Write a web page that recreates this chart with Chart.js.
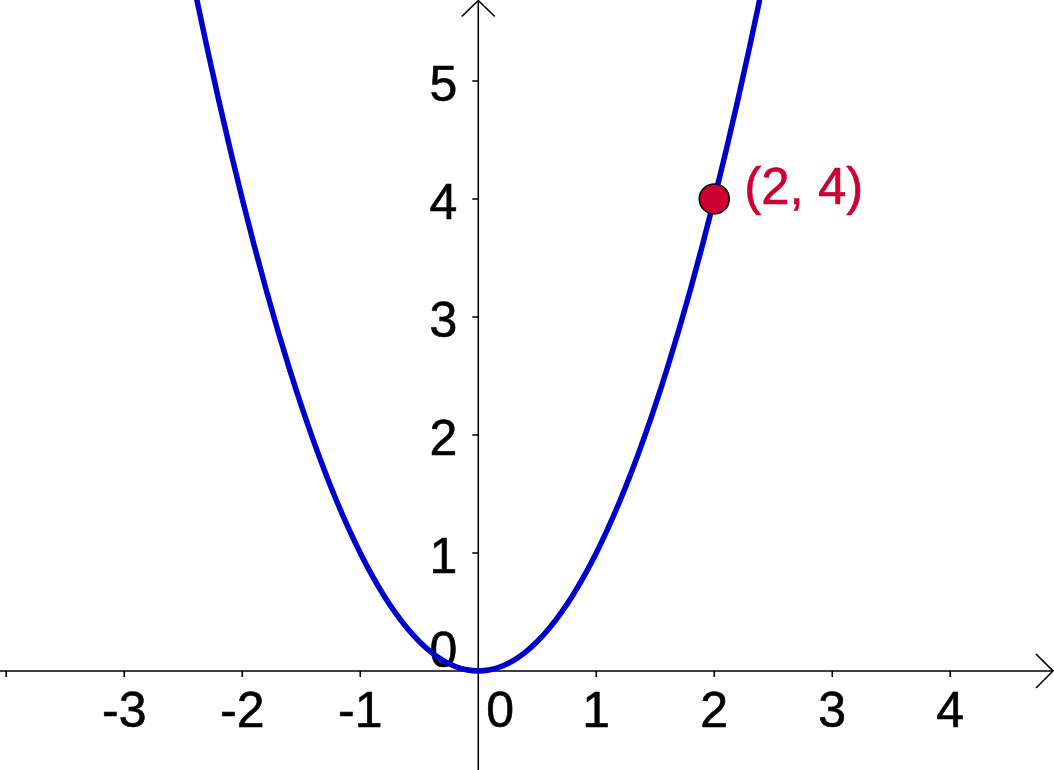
<!DOCTYPE html>
<html>
<head>
<meta charset="utf-8">
<script src="https://cdn.jsdelivr.net/npm/chart.js@4"></script>
<style>
html,body{margin:0;padding:0;background:#fff;}
#wrap{width:1054px;height:770px;position:relative;}
</style>
</head>
<body>
<div id="wrap"><canvas id="c"></canvas></div>
<script>
// Curve samples (parabola through the origin)
const curveX = [-2.5,-2.4,-2.3,-2.2,-2.1,-2.0,-1.9,-1.8,-1.7,-1.6,-1.5,-1.4,-1.3,-1.2,-1.1,-1.0,-0.9,-0.8,-0.7,-0.6,-0.5,-0.4,-0.3,-0.2,-0.1,0,
                0.1,0.2,0.3,0.4,0.5,0.6,0.7,0.8,0.9,1.0,1.1,1.2,1.3,1.4,1.5,1.6,1.7,1.8,1.9,2.0,2.1,2.2,2.3,2.4,2.5];
const curveY = [6.25,5.76,5.29,4.84,4.41,4,3.61,3.24,2.89,2.56,2.25,1.96,1.69,1.44,1.21,1,0.81,0.64,0.49,0.36,0.25,0.16,0.09,0.04,0.01,0,
                0.01,0.04,0.09,0.16,0.25,0.36,0.49,0.64,0.81,1,1.21,1.44,1.69,1.96,2.25,2.56,2.89,3.24,3.61,4,4.41,4.84,5.29,5.76,6.25];
// Highlighted point
const pointX = [2];
const pointY = [4];
const pointLabels = ["(2, 4)"];
// Axis ticks
const xTickValues = [-4,-3,-2,-1,1,2,3,4];
const xTickLabels = ["","-3","-2","-1","1","2","3","4"];
const yTickValues = [1,2,3,4,5];
const yTickLabels = ["1","2","3","4","5"];
const originLabel = "0";
// View window
const xMin = -4.053, xMax = 4.879, yMin = -0.839, yMax = 5.686;

const FONT = '50px "Liberation Sans", Arial, sans-serif';
const RED = '#cc0033';

function txt(ctx, s, x, y) {
  ctx.fillText(s, x, y);
  ctx.strokeText(s, x, y);
}

const axesPlugin = {
  id: 'axes',
  beforeDatasetsDraw(chart) {
    const ctx = chart.ctx, xs = chart.scales.x, ys = chart.scales.y;
    const W = chart.width, H = chart.height;
    const ox = xs.getPixelForValue(0), oy = ys.getPixelForValue(0);
    ctx.save();
    ctx.strokeStyle = '#000';
    ctx.lineWidth = 1.6;
    ctx.beginPath();
    ctx.moveTo(0, oy); ctx.lineTo(W - 1, oy);
    ctx.moveTo(ox, H); ctx.lineTo(ox, 0.5);
    // arrows
    ctx.moveTo(W - 18, oy - 17); ctx.lineTo(W - 1, oy); ctx.lineTo(W - 18, oy + 17);
    ctx.moveTo(ox - 16.5, 16.5); ctx.lineTo(ox, 0.5); ctx.lineTo(ox + 16.5, 16.5);
    // ticks
    xTickValues.forEach(v => {
      const px = xs.getPixelForValue(v);
      ctx.moveTo(px, oy); ctx.lineTo(px, oy + 6);
    });
    yTickValues.forEach(v => {
      const py = ys.getPixelForValue(v);
      ctx.moveTo(ox, py); ctx.lineTo(ox - 6, py);
    });
    ctx.stroke();
    // labels
    ctx.fillStyle = '#000';
    ctx.lineWidth = 0.6;
    ctx.font = FONT;
    ctx.textBaseline = 'alphabetic';
    ctx.textAlign = 'center';
    xTickValues.forEach((v, i) => {
      const px = xs.getPixelForValue(v);
      txt(ctx, xTickLabels[i], px, oy + 56);
    });
    ctx.textAlign = 'right';
    yTickValues.forEach((v, i) => {
      const py = ys.getPixelForValue(v);
      txt(ctx, yTickLabels[i], ox - 21, py + 20);
    });
    txt(ctx, originLabel, ox - 21, oy - 4);
    ctx.textAlign = 'center';
    txt(ctx, originLabel, ox + 22, oy + 56);
    ctx.restore();
  },
  afterDatasetsDraw(chart) {
    const ctx = chart.ctx, xs = chart.scales.x, ys = chart.scales.y;
    ctx.save();
    ctx.fillStyle = RED;
    ctx.strokeStyle = RED;
    ctx.lineWidth = 0.6;
    ctx.font = '51px "Liberation Sans", Arial, sans-serif';
    ctx.textAlign = 'left';
    ctx.textBaseline = 'alphabetic';
    pointX.forEach((v, i) => {
      txt(ctx, pointLabels[i], xs.getPixelForValue(v) + 30, ys.getPixelForValue(pointY[i]) + 5);
    });
    ctx.restore();
  }
};

new Chart(document.getElementById('c'), {
  type: 'scatter',
  data: {
    datasets: [
      {
        data: pointX.map((x, i) => ({x, y: pointY[i]})),
        pointRadius: 15,
        pointBackgroundColor: RED,
        pointBorderColor: '#000',
        pointBorderWidth: 1.5,
        showLine: false,
        order: 0
      },
      {
        data: curveX.map((x, i) => ({x, y: curveY[i]})),
        showLine: true,
        borderColor: '#0000cc',
        borderWidth: 5.5,
        pointRadius: 0,
        tension: 0.4,
        cubicInterpolationMode: 'monotone',
        fill: false,
        order: 1
      }
    ]
  },
  options: {
    responsive: true,
    maintainAspectRatio: false,
    animation: false,
    layout: { padding: 0, autoPadding: false },
    plugins: { legend: { display: false }, tooltip: { enabled: false } },
    events: [],
    scales: {
      x: { type: 'linear', min: xMin, max: xMax, display: false },
      y: { type: 'linear', min: yMin, max: yMax, display: false }
    }
  },
  plugins: [axesPlugin]
});
</script>
</body>
</html>
